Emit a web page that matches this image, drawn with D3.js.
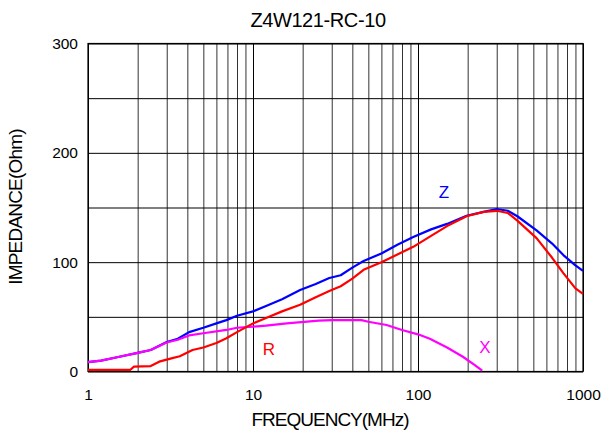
<html>
<head>
<script src="https://cdn.jsdelivr.net/npm/d3@7"></script>
<style type="text/css">
    body { margin: 0; background: #fff; }
    text { font-family: "Liberation Sans", Arial, sans-serif; fill: #000; }
    .grid line.major { stroke: #000; }
    .grid line.minor { stroke: #333; }
    .grid path.domain { stroke: none; }
    .curve { fill: none; stroke-width: 2.2; stroke-linejoin: round; }
</style>
</head>
<body>
<svg id="chart"></svg>
<script>
    var W = 604, H = 431;
    var Left = 88, Right = 583, Top = 43.5, Bottom = 371.5;

    var Title = "Z4W121-RC-10";
    var XLabel = "FREQUENCY(MHz)";
    var YLabel = "IMPEDANCE(Ohm)";
    var XTicks = [1, 10, 100, 1000];
    var YTicks = [0, 100, 200, 300];

    // impedance |Z|
    var zFreq = [1, 1.2, 1.5, 2, 2.4, 3, 3.5, 4.1, 5, 6, 6.9, 8, 10, 12, 15, 19.3, 24, 29, 34, 40, 46.8, 60, 75, 93.6, 120, 150, 197, 250, 300, 350, 400, 523, 650, 760, 900, 1000];
    var zVal  = [8.5, 10, 13, 17, 19.7, 27, 30, 36, 40, 44, 47, 51, 55, 60, 66, 74.5, 80, 85.5, 88, 95, 101, 108, 116, 123, 130, 135, 142.5, 146, 148.6, 147, 142, 129, 117, 106.5, 97, 92];
    // resistance R
    var rFreq = [1, 1.8, 1.9, 2.4, 2.7, 3.2, 3.6, 4.3, 5, 6, 6.9, 8, 10, 12, 15, 19.3, 24, 29, 34, 40, 46.8, 60, 75, 93.6, 120, 150, 197, 250, 300, 350, 400, 523, 650, 760, 900, 1000];
    var rVal  = [1.4, 1.4, 4.4, 5, 9, 12, 14, 19.7, 22, 26, 30.4, 36, 44, 49, 55, 61, 68, 73.6, 78, 85, 93, 100, 107, 114, 124, 133, 142, 146, 147, 145, 138, 122, 104, 90, 76, 71];
    // reactance X
    var xFreq = [1, 1.2, 1.5, 2, 2.4, 3, 3.5, 4.1, 5, 6.9, 8, 10, 12, 16, 25, 30, 45.5, 50, 64.5, 80, 100, 118, 150, 187, 220, 245];
    var xVal  = [8.5, 10, 13, 17, 19.7, 26.5, 29, 33, 35, 38, 40, 41, 42, 44, 46.5, 47, 47, 45.5, 42.5, 38, 34, 30, 22, 13.5, 6, 0.7];

    var svg = d3.select("#chart").attr("width", W).attr("height", H);

    var x = d3.scaleLog().domain([1, 1000]).range([Left, Right]);
    var y = d3.scaleLinear().domain([0, 300]).range([Bottom, Top]);

    // grid: every 1..9 per decade, and every 50 ohm
    var gridX = [];
    XTicks.slice(0, 3).forEach(function(d) {
        for (var k = 1; k < 10; k++) gridX.push(d * k);
    });
    gridX.push(1000);

    var gx = svg.append("g").attr("class", "grid")
        .attr("transform", "translate(0," + Bottom + ")")
        .call(d3.axisBottom(x).tickValues(gridX).tickSize(-(Bottom - Top)).tickFormat(""));
    gx.selectAll(".tick line")
        .attr("class", function(d) { return XTicks.indexOf(d) >= 0 ? "major" : "minor"; });

    var gy = svg.append("g").attr("class", "grid")
        .attr("transform", "translate(" + Left + ",0)")
        .call(d3.axisLeft(y).tickValues(d3.range(0, 301, 50)).tickSize(-(Right - Left)).tickFormat(""));
    gy.selectAll(".tick line").attr("class", "major");

    svg.append("rect")
        .attr("x", Left).attr("y", Top)
        .attr("width", Right - Left).attr("height", Bottom - Top)
        .attr("fill", "none").attr("stroke", "#000").attr("stroke-width", 1.2);

    // tick labels
    var ax = svg.append("g")
        .attr("transform", "translate(0," + Bottom + ")")
        .call(d3.axisBottom(x).tickValues(XTicks).tickSize(0).tickPadding(17).tickFormat(d3.format("d")));
    ax.select(".domain").remove();
    ax.selectAll("text").style("font-size", "15.5px").attr("fill", "#000")
        .style("font-family", "'Liberation Sans', Arial, sans-serif");

    var ay = svg.append("g")
        .attr("transform", "translate(" + Left + ",0)")
        .call(d3.axisLeft(y).tickValues(YTicks).tickSize(0).tickPadding(10).tickFormat(d3.format("d")));
    ay.select(".domain").remove();
    ay.selectAll("text").style("font-size", "15.5px").attr("fill", "#000")
        .style("font-family", "'Liberation Sans', Arial, sans-serif");

    // curves
    var line = d3.line()
        .x(function(d) { return x(d[0]); })
        .y(function(d) { return y(d[1]); });

    function pairs(f, v) { return f.map(function(d, i) { return [d, v[i]]; }); }

    svg.append("path").attr("class", "curve").attr("stroke", "#0000ff").attr("d", line(pairs(zFreq, zVal)));
    svg.append("path").attr("class", "curve").attr("stroke", "#ff00ff").attr("d", line(pairs(xFreq, xVal)));
    svg.append("path").attr("class", "curve").attr("stroke", "#ff0000").attr("d", line(pairs(rFreq, rVal)));

    // series labels
    svg.append("text").attr("x", 444).attr("y", 198).attr("text-anchor", "middle")
        .style("font-size", "17px").style("fill", "#0000ff").text("Z");
    svg.append("text").attr("x", 269).attr("y", 355).attr("text-anchor", "middle")
        .style("font-size", "17px").style("fill", "#ff0000").text("R");
    svg.append("text").attr("x", 485).attr("y", 353).attr("text-anchor", "middle")
        .style("font-size", "17px").style("fill", "#ff00ff").text("X");

    // titles
    svg.append("text").attr("x", 318).attr("y", 27).attr("text-anchor", "middle")
        .style("font-size", "20px").style("letter-spacing", "-0.4px").text(Title);
    svg.append("text").attr("x", 330).attr("y", 426).attr("text-anchor", "middle")
        .style("font-size", "19px").style("letter-spacing", "-1px").text(XLabel);
    svg.append("text").attr("transform", "translate(22,207) rotate(-90)").attr("text-anchor", "middle")
        .style("font-size", "19px").style("letter-spacing", "-0.8px").text(YLabel);
</script>
</body>
</html>
